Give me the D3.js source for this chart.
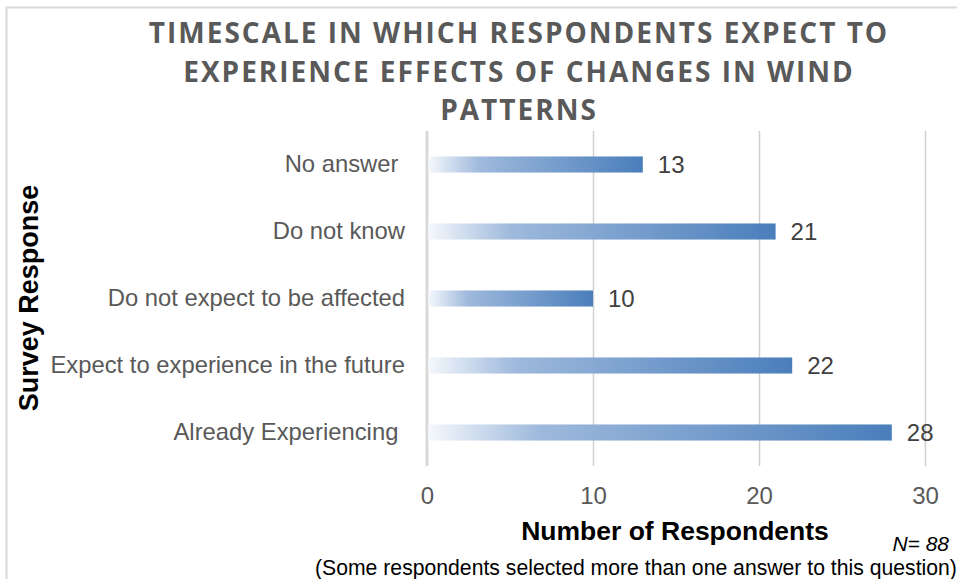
<!DOCTYPE html>
<html>
<head>
<meta charset="utf-8">
<script src="https://cdn.jsdelivr.net/npm/d3@7"></script>
<style>
  body { margin: 0; background: #fff; }
  svg { display: block; }
</style>
</head>
<body>
<div id="chart"></div>
<script>
// Chart data
const categories = [
  "No answer ",
  "Do not know",
  "Do not expect to be affected",
  "Expect to experience in the future",
  "Already Experiencing "
];
const counts = [13, 21, 10, 22, 28];
const xTicks = [0, 10, 20, 30];
const titleLines = [
  "TIMESCALE IN WHICH RESPONDENTS EXPECT TO",
  "EXPERIENCE EFFECTS OF CHANGES IN WIND",
  "PATTERNS"
];

const width = 957, height = 579;
const plot = {left: 427, right: 925, top: 131, bottom: 466};
const font = "'Liberation Sans', Arial, sans-serif";

const svg = d3.select("#chart").append("svg")
  .attr("width", width)
  .attr("height", height);

// Frame of the chart area
svg.append("rect")
  .attr("x", 6.5)
  .attr("y", 7.5)
  .attr("width", 980)
  .attr("height", 600)
  .attr("fill", "#fff")
  .attr("stroke", "#d9d9d9")
  .attr("stroke-width", 2);

// Gradient for bars (relative to each bar)
const grad = svg.append("defs").append("linearGradient")
  .attr("id", "barGrad")
  .attr("x1", "0%").attr("x2", "100%")
  .attr("y1", "0%").attr("y2", "0%");
grad.append("stop").attr("offset", "0%").attr("stop-color", "#f5f8fc");
grad.append("stop").attr("offset", "24%").attr("stop-color", "#9eb9dc");
grad.append("stop").attr("offset", "100%").attr("stop-color", "#4a7ebb");

// Scales
const x = d3.scaleLinear()
  .domain([0, 30])
  .range([plot.left, plot.right]);

const y = d3.scaleBand()
  .domain(categories)
  .range([plot.top, plot.bottom])
  .paddingInner(0.76)
  .paddingOuter(0.38);

// Title
svg.append("g")
  .selectAll("text")
  .data(titleLines)
  .join("text")
  .attr("x", 519)
  .attr("y", (d, i) => 43 + i * 38.5)
  .attr("text-anchor", "middle")
  .style("font-family", "'Open Sans', sans-serif")
  .style("font-weight", "bold")
  .style("font-size", "28px")
  .style("letter-spacing", "2px")
  .attr("fill", "#595959")
  .text(d => d);

// Gridlines
svg.append("g")
  .attr("transform", `translate(0,${plot.bottom})`)
  .call(d3.axisBottom(x).tickValues(xTicks.slice(1)).tickSize(-(plot.bottom - plot.top)).tickFormat(""))
  .call(g => g.select(".domain").remove())
  .call(g => g.selectAll("line").attr("stroke", "#d0d0d0").attr("stroke-width", 1.5));

// Vertical axis line at 0
svg.append("line")
  .attr("x1", x(0)).attr("x2", x(0))
  .attr("y1", plot.top).attr("y2", plot.bottom)
  .attr("stroke", "#d9d9d9")
  .attr("stroke-width", 3);

// X tick labels
svg.append("g")
  .attr("transform", `translate(0,${plot.bottom})`)
  .call(d3.axisBottom(x).tickValues(xTicks).tickSize(0).tickPadding(21))
  .call(g => g.select(".domain").remove())
  .call(g => g.selectAll("text")
    .style("font-family", font)
    .style("font-size", "24px")
    .attr("fill", "#595959"));

// Y category labels
svg.append("g")
  .attr("transform", `translate(${x(0) - 22},0)`)
  .call(d3.axisLeft(y).tickSize(0).tickPadding(0))
  .call(g => g.select(".domain").remove())
  .call(g => g.selectAll("text")
    .style("font-family", font)
    .style("font-size", "23.8px")
    .style("white-space", "pre")
    .attr("fill", "#595959"));

// Bars
svg.append("g")
  .selectAll("rect")
  .data(counts)
  .join("rect")
  .attr("x", x(0) + 1.5)
  .attr("y", (d, i) => y(categories[i]))
  .attr("width", d => x(d) - x(0) - 1.5)
  .attr("height", y.bandwidth())
  .attr("fill", "url(#barGrad)");

// Value labels
svg.append("g")
  .selectAll("text")
  .data(counts)
  .join("text")
  .attr("x", d => x(d) + 15)
  .attr("y", (d, i) => y(categories[i]) + y.bandwidth() / 2)
  .attr("dy", "0.36em")
  .style("font-family", font)
  .style("font-size", "24px")
  .attr("fill", "#404040")
  .text(d => d);

// Axis titles
svg.append("text")
  .attr("x", 675)
  .attr("y", 540)
  .attr("text-anchor", "middle")
  .style("font-family", font)
  .style("font-weight", "bold")
  .style("font-size", "26.5px")
  .attr("fill", "#000")
  .text("Number of Respondents");

svg.append("text")
  .attr("transform", "translate(38,298) rotate(-90)")
  .attr("text-anchor", "middle")
  .style("font-family", font)
  .style("font-weight", "bold")
  .style("font-size", "27px")
  .attr("fill", "#000")
  .text("Survey Response");

// Notes
svg.append("text")
  .attr("x", 949)
  .attr("y", 551)
  .attr("text-anchor", "end")
  .style("font-family", font)
  .style("font-style", "italic")
  .style("font-size", "21px")
  .attr("fill", "#000")
  .text("N= 88");

svg.append("text")
  .attr("x", 315)
  .attr("y", 575)
  .style("font-family", font)
  .style("font-size", "21.2px")
  .attr("fill", "#000")
  .text("(Some respondents selected more than one answer to this question)");
</script>
</body>
</html>
